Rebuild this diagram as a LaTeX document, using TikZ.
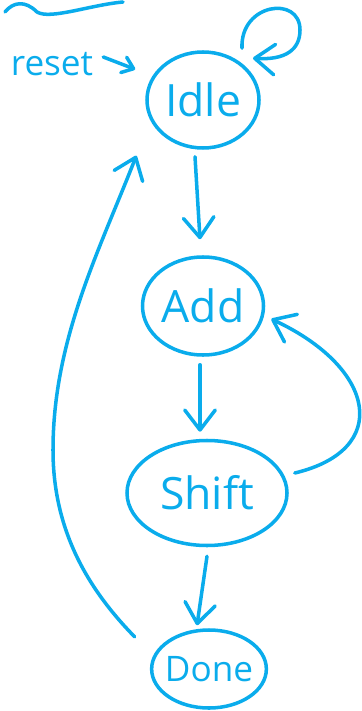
\documentclass[tikz,border=0pt]{standalone}
\usepackage{fontspec}
\setmainfont{Open Sans}
\usepackage{tikz}
\usetikzlibrary{shapes.geometric}
\usetikzlibrary{arrows.meta,positioning}
\definecolor{ink}{RGB}{10,172,236}

\begin{document}
\begin{tikzpicture}[x=0.03cm,y=-0.03cm]
 \useasboundingbox (0,0) rectangle (361,711);

\tikzstyle{pen}=[draw=ink,line width=3pt,line cap=round,line join=round]
\tikzstyle{state}=[ellipse,pen,inner sep=0pt,text=ink,font=\fontsize{38}{40}\selectfont]
\tikzstyle{arr}=[pen,-{Straight Barb[round,length=17pt,width=26pt]}]
\tikzstyle{arrsmall}=[pen,-{Straight Barb[round,length=9pt,width=14pt]}]

   %scribble on top
    \draw[pen] (5,12) .. controls (13,2) and (25,0) .. (37,12) .. controls (50,20) and (90,5) .. (123,2);

   %states
   \node (Idle) at (203,100) [state,minimum width=3.36cm,minimum height=2.88cm] {Idle};
   \node (Add) at (203,306) [state,minimum width=3.63cm,minimum height=2.94cm] {Add};
   \node (Shift) at (207,493) [state,minimum width=4.8cm,minimum height=3.15cm] {Shift};
   \node (Done) at (209,669) [state,inner xsep=-3pt,font=\fontsize{30}{32}\selectfont,minimum width=3.39cm,minimum height=2.34cm] {Done};

   \node (reset) at (52,64) [text=ink,font=\fontsize{30}{32}\selectfont] {reset};

%    \draw[pen] (Idle.north) -- (Add.south);

    \draw[arrsmall] ([shift={(6,-7)}]reset.east) -- ([shift={(-17,-7)}]Idle.155);

    %self loop
    \draw[arr] ([shift={(39,-2)}]Idle.north) .. controls +(-2,-45) and +(0,-35) .. (300,30) .. controls +(0,20) and +(32,2) .. ([shift={(50,8)}]Idle.north);

    \draw[arr] ([shift={(-8,7)}]Idle.south) -- ([shift={(-3,-16)}]Add.north);
    \draw[arr] ([shift={(-3,8)}]Add.south) -- ([shift={(-7,-7)}]Shift.north);
    \draw[arr] ([shift={(0,9)}]Shift.south) -- ([shift={(-12,-3)}]Done.north);

    \draw[arr] ([shift={(6,-20)}]Shift.east) .. controls +(97,-23) and +(105,49) .. ([shift={(6,13)}]Add.east);

    \draw[arr] ([shift={(-29,-6)}]Done.150) .. controls +(-47,-48) and +(0,80) .. (53,450) .. controls +(0,-110) and +(-37,95) .. ([shift={(-29,18)}]Idle.225);

\end{tikzpicture}
\end{document}
